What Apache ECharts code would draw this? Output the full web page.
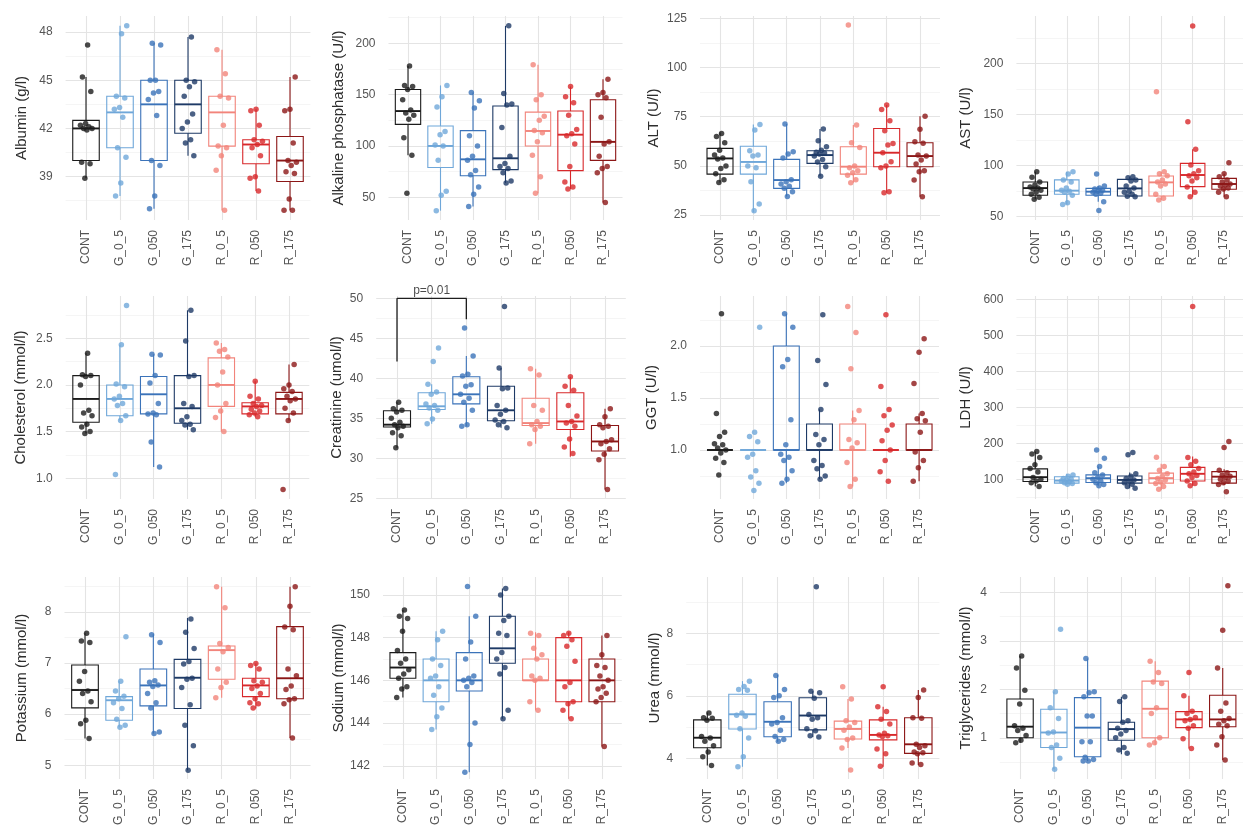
<!DOCTYPE html>
<html>
<head>
<meta charset="utf-8">
<title>Serum biochemistry boxplots</title>
<script src="https://cdn.jsdelivr.net/npm/echarts@6/dist/echarts.min.js"></script>
<style>
  html, body { margin: 0; padding: 0; background: #fff; }
  #chart { width: 1243px; height: 833px; }
</style>
</head>
<body>
<div id="chart"></div>
<script>
// groups (x axis) and their colours
const categories = ['CONT', 'G_0_5', 'G_050', 'G_175', 'R_0_5', 'R_050', 'R_175'];
const groupColors = ['#1b1b1b', '#6fa7d9', '#3b73b9', '#1e3a66', '#f2847b', '#d8282b', '#8c1616'];

// box stats per group: [lower whisker, Q1, median, Q3, upper whisker]
// points per group: individual animals
const albuminBox = [[38.9, 40.0, 42.0, 42.5, 45.2], [37.8, 40.8, 43.0, 44.0, 48.4], [37.0, 40.0, 43.5, 45.0, 47.3], [40.3, 41.7, 43.5, 45.0, 47.7], [36.9, 40.9, 43.0, 44.0, 46.9], [38.1, 39.8, 41.0, 41.3, 43.2], [36.9, 38.7, 40.0, 41.5, 45.2]];
const albuminPts = [
  [47.2, 45.2, 44.3, 42.3, 42.2, 42.1, 42.0, 42.0, 41.9, 39.9, 39.8, 38.9],
  [48.4, 47.9, 44.0, 43.9, 43.3, 43.2, 42.7, 40.8, 40.2, 38.6, 37.8],
  [47.3, 47.2, 45.0, 45.0, 44.3, 44.2, 43.8, 42.8, 40.0, 39.7, 37.8, 37.0],
  [47.7, 45.0, 44.9, 44.6, 44.0, 42.9, 42.4, 42.0, 41.3, 41.1, 40.3],
  [46.9, 45.4, 44.0, 43.9, 42.2, 40.9, 40.8, 40.3, 39.4, 36.9],
  [43.2, 43.1, 42.2, 41.3, 41.2, 41.0, 40.8, 40.3, 39.0, 38.9, 38.1],
  [45.2, 43.2, 43.1, 41.1, 40.0, 39.9, 39.7, 39.3, 39.2, 37.6, 36.9, 36.9]
];
const albuminTicks = ['39', '42', '45', '48'];

const alpBox = [[91, 121, 134, 155, 178], [37, 79, 100, 119.5, 159], [41, 71, 87, 115, 152], [64, 77, 88, 139, 217], [54, 100, 114.6, 133, 179], [58, 76, 111, 134, 158], [45, 86, 104, 145, 165]];
const alpPts = [
  [178, 159, 158, 155, 145, 135, 132, 130, 126, 108, 91, 54],
  [159, 148, 138, 114, 111, 101, 100, 86, 56, 52, 37],
  [152, 144, 137, 110, 100, 90, 86, 76, 72, 60, 53, 41],
  [217, 151, 141, 140, 118, 90, 83, 80, 78, 74, 66, 64],
  [179, 150, 145, 129, 125, 115, 113, 104, 91, 70, 54],
  [158, 148, 142, 130, 116, 112, 110, 102, 80, 65, 60, 58],
  [165, 152, 150, 147, 128, 104, 102, 90, 80, 78, 74, 45]
];
const alpTicks = ['50', '100', '150', '200'];

const altBox = [[41.5, 45.8, 53.8, 58.9, 67], [26.5, 45.8, 52, 60, 71], [34.5, 38.6, 42.8, 53.3, 71.3], [44.8, 51.3, 55.5, 57.7, 68.7], [41.4, 45.8, 49.6, 59.7, 70.8], [36.4, 49.6, 56.7, 69, 81], [34.3, 49.6, 55, 61.8, 75.3]];
const altPts = [
  [66.5, 65, 61.8, 58, 55.5, 54, 53.5, 49.9, 48.7, 46, 43, 41.5],
  [71, 68.2, 57.7, 55.5, 55, 49.9, 49, 41.9, 30.6, 27.2],
  [71.3, 57.2, 56, 54, 43, 42, 40.8, 39.7, 38.6, 36.9, 34.5],
  [68.7, 62.8, 59.7, 58, 57, 56.5, 56, 55, 53.3, 52, 49.6, 44.8],
  [121.6, 70.8, 61.8, 59.4, 49.9, 49, 47.5, 46.5, 45.3, 43, 41.4],
  [80.9, 78.7, 73, 67.9, 61.4, 60.6, 56.7, 52.1, 49.9, 49, 36.9, 36.4],
  [75.3, 68.6, 62.3, 61.5, 55.5, 55, 53, 51, 47.5, 47, 42.8, 34.3]
];
const altTicks = ['25', '50', '75', '100', '125'];

const astBox = [[67, 71, 78, 84, 94], [62, 72, 75.5, 86, 94], [64.7, 71, 74.5, 77.7, 80], [69.6, 70.2, 77.7, 86.5, 89], [66.3, 70.2, 83.6, 89.8, 94], [69.6, 79.4, 90.8, 102.2, 115.9], [69.6, 76.8, 82, 87.5, 92]];
const astPts = [
  [94, 88.5, 84, 81, 79, 78, 77, 76, 74, 72, 69, 67],
  [94, 91.8, 86, 84, 78, 76, 75, 74, 71, 63.7, 62],
  [91.8, 80, 78, 77, 76, 75, 74, 73, 72, 64.7, 56],
  [89, 88, 86, 85, 80, 78, 75, 74, 72, 70, 69.6],
  [172.3, 94, 92, 90, 86, 84, 82, 80, 72, 68, 66.3],
  [236.5, 143, 115.9, 100.6, 95, 92, 90, 88, 85, 79, 74, 69.6],
  [102.8, 92, 89, 86, 84, 82, 81, 80, 78, 77, 74, 69.6]
];
const astTicks = ['50', '100', '150', '200'];

const cholBox = [[1.48, 1.60, 1.85, 2.10, 2.34], [1.62, 1.67, 1.85, 2.00, 2.43], [1.12, 1.69, 1.90, 2.09, 2.33], [1.52, 1.59, 1.75, 2.10, 2.80], [1.50, 1.77, 2.00, 2.29, 2.45], [1.66, 1.69, 1.77, 1.81, 2.04], [1.62, 1.69, 1.85, 1.92, 2.22]];
const cholPts = [
  [2.34, 2.11, 2.10, 2.09, 2.00, 1.73, 1.70, 1.67, 1.58, 1.55, 1.50, 1.48],
  [2.85, 2.43, 2.01, 1.98, 1.88, 1.85, 1.80, 1.78, 1.67, 1.62, 1.04],
  [2.33, 2.32, 2.10, 2.02, 1.80, 1.70, 1.69, 1.68, 1.39, 1.12],
  [2.80, 2.47, 2.10, 2.09, 1.80, 1.77, 1.66, 1.62, 1.58, 1.57, 1.52],
  [2.45, 2.38, 2.36, 2.30, 2.14, 2.00, 1.80, 1.72, 1.65, 1.50],
  [2.04, 1.88, 1.85, 1.80, 1.78, 1.77, 1.74, 1.72, 1.70, 1.68, 1.66],
  [2.22, 2.00, 1.96, 1.93, 1.88, 1.85, 1.83, 1.75, 1.70, 1.62, 0.88]
];
const cholTicks = ['1.0', '1.5', '2.0', '2.5'];

const creatBox = [[31.3, 33.9, 34.2, 35.95, 37.0], [34.3, 36.1, 36.5, 38.2, 39.25], [34.0, 36.8, 38.0, 40.2, 42.8], [33.8, 34.7, 36.0, 39.0, 41.3], [31.8, 34.1, 34.4, 37.5, 41.2], [30.2, 33.6, 34.6, 38.2, 40.2], [26.1, 30.9, 32.1, 34.1, 36.2]];
const creatPts = [
  [37.0, 36.2, 36.0, 35.8, 35.0, 34.5, 34.2, 34.0, 33.8, 33.2, 32.8, 31.3],
  [43.8, 42.1, 39.25, 38.3, 38.0, 36.8, 36.6, 36.3, 36.0, 34.9, 34.3],
  [46.3, 42.8, 40.5, 40.3, 39.2, 39.0, 38.0, 37.5, 37.0, 36.0, 34.2, 34.0],
  [49.0, 41.3, 38.8, 38.7, 36.6, 36.0, 35.5, 34.8, 34.6, 34.2, 33.8],
  [41.2, 40.4, 36.6, 36.0, 34.6, 34.2, 34.0, 33.6, 31.8],
  [40.2, 39.0, 38.5, 36.6, 35.3, 34.6, 34.4, 34.0, 32.4, 31.4, 30.6],
  [36.2, 35.2, 34.2, 34.0, 33.8, 32.3, 32.1, 31.8, 31.2, 30.5, 29.8, 26.1]
];
const creatTicks = ['25', '30', '35', '40', '45', '50'];
// significance bracket CONT vs G_050
const creatBracket = [[0, 42.1], [0, 50], [2, 50], [2, 47.4]];
const creatPLabel = 'p=0.01';

const ggtBox = [[1, 1, 1, 1, 1], [1, 1, 1, 1, 1], [0.68, 1.0, 1.0, 2.0, 2.31], [0.72, 1.0, 1.0, 1.25, 1.39], [0.65, 1.0, 1.0, 1.25, 1.38], [1, 1, 1, 1, 1], [0.70, 1.0, 1.0, 1.25, 1.35]];
const ggtPts = [
  [2.31, 1.35, 1.17, 1.13, 1.06, 1.05, 1.02, 1.0, 0.97, 0.92, 0.88, 0.76],
  [2.18, 1.17, 1.13, 1.08, 0.96, 0.93, 0.80, 0.74, 0.68, 0.61],
  [2.31, 2.18, 1.87, 1.80, 1.29, 1.05, 0.96, 0.93, 0.90, 0.80, 0.72, 0.68],
  [2.30, 1.86, 1.63, 1.39, 1.15, 1.10, 1.05, 0.90, 0.85, 0.82, 0.75, 0.72],
  [2.38, 2.13, 1.78, 1.38, 1.29, 1.10, 1.07, 1.02, 0.88, 0.72, 0.65],
  [2.30, 1.61, 1.39, 1.33, 1.24, 1.19, 1.09, 1.0, 0.90, 0.79, 0.70],
  [2.07, 1.94, 1.64, 1.35, 1.30, 1.28, 1.17, 0.98, 0.90, 0.83, 0.70]
];
const ggtTicks = ['1.0', '1.5', '2.0'];

const ldhBox = [[80, 93.5, 105.6, 128.7, 177], [85, 89, 96, 107, 115], [81.5, 90.7, 102.8, 112, 135], [75, 89, 98, 109, 118.5], [70, 89, 103, 117, 143], [81.5, 95, 115, 133, 163], [84, 89, 107, 121, 128]];
const ldhPts = [
  [177, 170, 160, 140, 130, 120, 105, 100, 95, 90, 80],
  [112, 108, 102, 100, 97, 95, 93, 90, 88, 86],
  [181, 158, 135, 118, 112, 105, 100, 95, 90, 85, 82],
  [174, 168, 115, 108, 102, 98, 95, 90, 86, 80, 75],
  [161, 135, 125, 115, 108, 102, 98, 92, 88, 80, 72],
  [580, 160, 150, 140, 130, 120, 115, 110, 105, 95, 88, 82],
  [205, 188, 125, 118, 112, 108, 104, 100, 95, 90, 85, 65]
];
const ldhTicks = ['100', '200', '300', '400', '500', '600'];

const potBox = [[5.52, 6.12, 6.47, 6.96, 7.58], [5.74, 5.88, 6.27, 6.34, 6.64], [5.62, 6.16, 6.56, 6.88, 7.56], [4.90, 6.11, 6.71, 7.07, 7.88], [6.32, 6.68, 7.25, 7.33, 8.49], [6.11, 6.34, 6.56, 6.70, 6.99], [5.53, 6.30, 6.70, 7.71, 8.49]];
const potPts = [
  [7.58, 7.43, 7.40, 6.83, 6.64, 6.45, 6.40, 6.24, 5.88, 5.81, 5.52],
  [7.51, 6.64, 6.45, 6.35, 6.30, 6.22, 6.11, 5.90, 5.78, 5.74],
  [7.55, 7.40, 6.65, 6.62, 6.57, 6.54, 6.40, 6.22, 6.12, 5.65, 5.62],
  [7.86, 7.60, 7.28, 7.03, 6.98, 6.70, 6.68, 6.52, 6.18, 5.78, 5.38, 4.90],
  [8.49, 8.08, 7.38, 7.30, 7.22, 6.88, 6.62, 6.52, 6.32],
  [6.99, 6.95, 6.88, 6.65, 6.62, 6.55, 6.50, 6.40, 6.30, 6.22, 6.20, 6.12],
  [8.49, 8.11, 7.70, 7.65, 6.88, 6.75, 6.55, 6.48, 6.30, 6.28, 6.20, 5.53]
];
const potTicks = ['5', '6', '7', '8'];

const naBox = [[145.2, 146.1, 146.6, 147.3, 149.3], [143.7, 145.0, 146.0, 147.0, 148.3], [141.7, 145.5, 146.0, 147.3, 149.0], [144.2, 146.8, 147.5, 149.0, 150.3], [144.6, 146.0, 146.0, 147.0, 148.25], [144.2, 145.0, 146.0, 148.0, 148.25], [142.9, 145.0, 146.0, 147.0, 148.1]];
const naPts = [
  [149.3, 149.0, 148.9, 148.3, 147.4, 147.0, 146.8, 146.5, 146.3, 146.1, 145.7, 145.6, 145.2],
  [148.3, 147.9, 147.0, 146.7, 146.2, 146.1, 145.7, 145.3, 144.7, 144.3, 143.7],
  [150.4, 149.0, 147.8, 147.0, 146.2, 146.1, 146.0, 145.9, 145.7, 144.0, 143.0, 141.7],
  [150.3, 150.0, 149.0, 148.8, 148.2, 148.1, 147.3, 147.0, 146.6, 146.3, 144.6, 144.2],
  [148.2, 148.1, 147.5, 147.2, 147.0, 146.2, 146.1, 146.0, 145.0, 144.6],
  [148.2, 148.1, 147.9, 147.6, 146.9, 145.9, 145.7, 145.0, 144.9, 144.6, 144.2],
  [148.1, 147.2, 146.7, 146.6, 146.2, 146.0, 145.7, 145.6, 145.4, 145.2, 145.0, 142.9]
];
const naTicks = ['142', '144', '146', '148', '150'];

const ureaBox = [[3.77, 4.34, 4.66, 5.23, 5.47], [3.73, 4.94, 5.41, 6.05, 6.47], [4.53, 4.69, 5.17, 5.81, 6.67], [4.68, 4.91, 5.37, 5.94, 6.15], [4.33, 4.62, 4.94, 5.19, 5.90], [3.73, 4.59, 4.75, 5.23, 5.65], [3.79, 4.16, 4.45, 5.30, 6.19]];
const ureaPts = [
  [5.45, 5.30, 5.28, 5.22, 4.70, 4.65, 4.55, 4.40, 4.20, 4.05, 3.77],
  [6.47, 6.30, 6.20, 6.18, 5.45, 5.38, 5.35, 4.95, 4.65, 4.05, 3.73],
  [6.65, 6.20, 6.00, 5.95, 5.30, 5.15, 5.10, 4.90, 4.70, 4.60, 4.55],
  [9.49, 6.15, 6.10, 5.92, 5.40, 5.30, 5.25, 4.95, 4.88, 4.72, 4.68],
  [6.29, 5.90, 5.20, 5.15, 5.00, 4.90, 4.65, 4.60, 4.33, 3.63],
  [6.29, 5.65, 5.50, 5.25, 5.10, 4.80, 4.75, 4.72, 4.70, 4.30, 4.15, 3.75],
  [6.19, 5.95, 5.30, 5.28, 4.45, 4.40, 4.35, 4.20, 4.18, 4.15, 3.85, 3.80]
];
const ureaTicks = ['4', '6', '8'];

const trigBox = [[0.90, 1.00, 1.23, 1.80, 2.69], [0.35, 0.80, 1.11, 1.59, 1.95], [0.52, 0.61, 1.21, 1.83, 2.64], [0.66, 0.95, 1.18, 1.32, 1.85], [0.85, 1.00, 1.60, 2.17, 2.58], [0.78, 1.21, 1.38, 1.54, 1.87], [0.54, 1.23, 1.38, 1.88, 2.44]];
const trigPts = [
  [2.69, 2.44, 1.98, 1.70, 1.25, 1.20, 1.15, 1.05, 0.95, 0.90],
  [3.24, 1.95, 1.62, 1.40, 1.12, 1.10, 0.85, 0.80, 0.58, 0.35],
  [2.64, 1.95, 1.93, 1.85, 1.45, 1.45, 0.92, 0.92, 0.60, 0.55, 0.52, 0.52],
  [1.85, 1.75, 1.35, 1.32, 1.20, 1.15, 1.08, 1.00, 0.80, 0.75, 0.68],
  [2.58, 2.35, 2.15, 2.12, 1.62, 1.50, 1.00, 0.90, 0.85],
  [2.35, 1.87, 1.55, 1.50, 1.42, 1.38, 1.35, 1.25, 1.20, 0.98, 0.78],
  [4.14, 3.22, 2.44, 1.72, 1.55, 1.40, 1.35, 1.28, 1.25, 1.02, 0.85, 0.54]
];
const trigTicks = ['1', '2', '3', '4'];

// panel definitions: title, data, axis range
const panels = [
  { name: 'Albumin (g/l)', box: albuminBox, pts: albuminPts, ticks: albuminTicks, min: 36.3, max: 49.0 },
  { name: 'Alkaline phosphatase (U/l)', box: alpBox, pts: alpPts, ticks: alpTicks, min: 27.9, max: 226.6 },
  { name: 'ALT (U/l)', box: altBox, pts: altPts, ticks: altTicks, min: 22.5, max: 126.2 },
  { name: 'AST (U/l)', box: astBox, pts: astPts, ticks: astTicks, min: 46.8, max: 246.3 },
  { name: 'Cholesterol (mmol/l)', box: cholBox, pts: cholPts, ticks: cholTicks, min: 0.778, max: 2.953 },
  { name: 'Creatinine (umol/l)', box: creatBox, pts: creatPts, ticks: creatTicks, min: 24.9, max: 50.3 },
  { name: 'GGT (U/l)', box: ggtBox, pts: ggtPts, ticks: ggtTicks, min: 0.529, max: 2.48 },
  { name: 'LDH (U/l)', box: ldhBox, pts: ldhPts, ticks: ldhTicks, min: 45, max: 609 },
  { name: 'Potassium (mmol/l)', box: potBox, pts: potPts, ticks: potTicks, min: 4.73, max: 8.68 },
  { name: 'Sodium (mmol/l)', box: naBox, pts: naPts, ticks: naTicks, min: 141.38, max: 150.84 },
  { name: 'Urea (mmol/l)', box: ureaBox, pts: ureaPts, ticks: ureaTicks, min: 3.34, max: 9.8 },
  { name: 'Triglycerides (mmol/l)', box: trigBox, pts: trigPts, ticks: trigTicks, min: 0.15, max: 4.32 }
];

// layout: [grid left, grid width, y-title centre x]
const panelLayout = [
  [65.6, 244.8, 21.7], [388.5, 234, 338], [700, 240, 653], [1016.4, 234.8, 965],
  [65.7, 243.6, 20], [376.2, 249.6, 336.7], [700, 239, 651.7], [1016.4, 234.8, 965],
  [64.5, 246, 21.7], [383, 238.8, 338], [686.2, 253.2, 656.7], [999.8, 251, 965]
];
const rowTop = [16, 296, 577];
const rowHeight = [204, 203, 202];

const FONT = '"Liberation Sans", Arial, Helvetica, sans-serif';
const catIdx = categories.map((c, i) => i);

function minorTicks(major, lo, hi) {
  const step = major[1] - major[0];
  const out = [major[0] - step / 2];
  major.forEach(v => out.push(v + step / 2));
  return out.filter(v => v > lo && v < hi);
}

// deterministic horizontal jitter (position only)
function jitter(g, k) {
  return ((((k + 1) * 0.618034 + g * 0.377) % 1) - 0.5) * 0.4;
}

function renderBox(params, api) {
  const x = api.value(0);
  const c = groupColors[x];
  const hw = api.size([0.78, 0])[0] / 2;
  const pMin = api.coord([x, api.value(1)]);
  const pQ1 = api.coord([x, api.value(2)]);
  const pMed = api.coord([x, api.value(3)]);
  const pQ3 = api.coord([x, api.value(4)]);
  const pMax = api.coord([x, api.value(5)]);
  const ls = { stroke: c, lineWidth: 1.1, fill: null };
  return {
    type: 'group',
    children: [
      { type: 'line', shape: { x1: pMax[0], y1: pMax[1], x2: pQ3[0], y2: pQ3[1] }, style: ls },
      { type: 'line', shape: { x1: pQ1[0], y1: pQ1[1], x2: pMin[0], y2: pMin[1] }, style: ls },
      { type: 'rect', shape: { x: pQ3[0] - hw, y: pQ3[1], width: 2 * hw, height: pQ1[1] - pQ3[1] },
        style: { fill: 'transparent', stroke: c, lineWidth: 1.1 } },
      { type: 'line', shape: { x1: pMed[0] - hw, y1: pMed[1], x2: pMed[0] + hw, y2: pMed[1] },
        style: { stroke: c, lineWidth: 1.9 } }
    ]
  };
}

const grid = [], xAxis = [], yAxis = [], series = [];

panels.forEach((p, i) => {
  const [left, width, titleX] = panelLayout[i];
  const row = Math.floor(i / 4);
  grid.push({ left: left, top: rowTop[row], width: width, height: rowHeight[row] });

  xAxis.push({
    type: 'value', gridIndex: i, min: -0.6, max: 6.6,
    axisLine: { show: false },
    axisTick: { show: false, customValues: catIdx },
    axisLabel: {
      customValues: catIdx, rotate: 90, margin: 10,
      formatter: v => categories[Math.round(v)],
      fontSize: 12, color: '#555', fontFamily: FONT
    },
    splitLine: { show: true, lineStyle: { color: '#e4e4e4', width: 1.1 } }
  });

  const majors = p.ticks.map(Number);
  yAxis.push({
    type: 'value', gridIndex: i, min: p.min, max: p.max,
    name: p.name, nameLocation: 'middle', nameGap: left - titleX - 8,
    nameTextStyle: { fontSize: 15, color: '#2e2e2e', fontFamily: FONT },
    axisLine: { show: false },
    axisTick: { show: false, customValues: majors },
    axisLabel: {
      customValues: majors, margin: 13,
      formatter: v => {
        const k = majors.findIndex(m => Math.abs(m - v) < 1e-6);
        return k >= 0 ? p.ticks[k] : '';
      },
      fontSize: 12, color: '#555', fontFamily: FONT
    },
    splitLine: { show: true, lineStyle: { color: '#e4e4e4', width: 1.1 } }
  });
  yAxis.push({
    type: 'value', gridIndex: i, min: p.min, max: p.max, position: 'left',
    axisLine: { show: false },
    axisTick: { show: false, customValues: minorTicks(majors, p.min, p.max) },
    axisLabel: { show: false },
    splitLine: { show: true, lineStyle: { color: '#f1f1f1', width: 0.7 } }
  });

  series.push({
    type: 'custom', xAxisIndex: i, yAxisIndex: 2 * i, silent: true, z: 2,
    renderItem: renderBox,
    encode: { x: 0, y: [1, 2, 3, 4, 5] },
    data: p.box.map((b, g) => [g].concat(b))
  });

  const pts = [];
  p.pts.forEach((vals, g) => {
    vals.forEach((v, k) => {
      pts.push({ value: [g + jitter(g, k), v], itemStyle: { color: groupColors[g] } });
    });
  });
  series.push({
    type: 'scatter', xAxisIndex: i, yAxisIndex: 2 * i, silent: true, z: 3,
    symbolSize: 5.5, data: pts
  });
});

// p-value bracket on the creatinine panel
series.push({
  type: 'line', xAxisIndex: 5, yAxisIndex: 10, silent: true, z: 4,
  data: creatBracket, showSymbol: false, symbol: 'none',
  lineStyle: { color: '#1e1e1e', width: 1.3 }
});
series.push({
  type: 'scatter', xAxisIndex: 5, yAxisIndex: 10, silent: true, z: 4,
  symbolSize: 0,
  data: [[(creatBracket[1][0] + creatBracket[2][0]) / 2, creatBracket[1][1]]],
  label: {
    show: true, position: 'top', distance: 2, formatter: creatPLabel,
    fontSize: 12, color: '#1e1e1e', fontFamily: FONT
  }
});

const chart = echarts.init(document.getElementById('chart'), null, { renderer: 'canvas' });
chart.setOption({
  animation: false,
  backgroundColor: '#ffffff',
  grid: grid,
  xAxis: xAxis,
  yAxis: yAxis,
  series: series
});
</script>
</body>
</html>
